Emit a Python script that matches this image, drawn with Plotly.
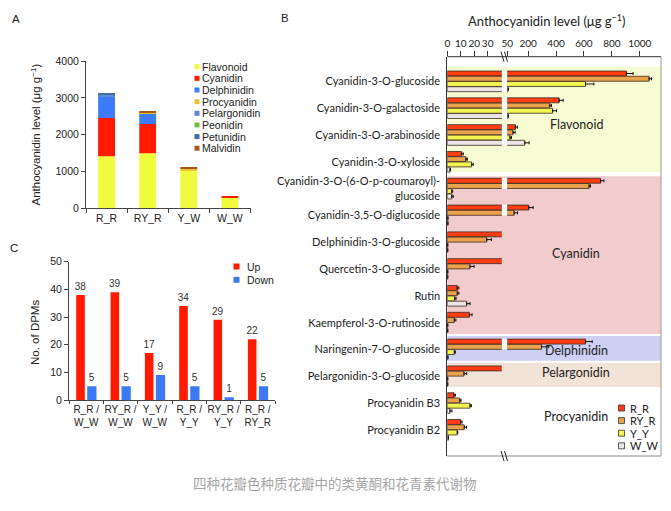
import plotly.graph_objects as go

W, H = 671, 511


def px(x):
    return x / W


def py(y):
    return 1 - y / H


# ---------------- Panel A data ----------------
a_groups = ["R_R", "RY_R", "Y_W", "W_W"]
a_classes = ["Flavonoid", "Cyanidin", "Delphinidin", "Procyanidin",
             "Pelargonidin", "Peonidin", "Petunidin", "Malvidin"]
a_flavonoid = [1415, 1495, 1036, 288]
a_cyanidin = [1035, 793, 0, 36]
a_delphinidin = [586, 280, 0, 0]
a_procyanidin = [0, 36, 45, 0]
a_pelargonidin = [45, 0, 0, 0]
a_peonidin = [0, 0, 0, 0]
a_petunidin = [27, 0, 0, 0]
a_malvidin = [0, 18, 18, 0]
a_values = [a_flavonoid, a_cyanidin, a_delphinidin, a_procyanidin,
            a_pelargonidin, a_peonidin, a_petunidin, a_malvidin]
a_colors = ["#effb3c", "#ff1a00", "#3c7cfa", "#ecc232",
            "#5d88d4", "#70bd44", "#3e6f9f", "#a8561e"]

# ---------------- Panel C data ----------------
c_comparisons = ["R_R /<br>W_W", "RY_R /<br>W_W", "Y_Y /<br>W_W",
                 "R_R /<br>Y_Y", "RY_R /<br>Y_Y", "R_R /<br>RY_R"]
c_up = [38, 39, 17, 34, 29, 22]
c_down = [5, 5, 9, 5, 1, 5]
c_series = ["Up", "Down"]
c_colors = ["#ff1a00", "#3d78f5"]

# ---------------- Panel B data ----------------
b_metabolites = [
    "Cyanidin-3-O-glucoside",
    "Cyanidin-3-O-galactoside",
    "Cyanidin-3-O-arabinoside",
    "Cyanidin-3-O-xyloside",
    "Cyanidin-3-O-(6-O-p-coumaroyl)-<br>glucoside",
    "Cyanidin-3,5-O-diglucoside",
    "Delphinidin-3-O-glucoside",
    "Quercetin-3-O-glucoside",
    "Rutin",
    "Kaempferol-3-O-rutinoside",
    "Naringenin-7-O-glucoside",
    "Pelargonidin-3-O-glucoside",
    "Procyanidin B3",
    "Procyanidin B2",
]
b_series = ["R_R", "RY_R", "Y_Y", "W_W"]
b_rr = [905, 422, 109, 10.7, 719, 205, 45, 45, 7.4, 16.4, 611, 45, 5.0, 10.0]
b_rr_err = [47, 29, 14, 1.2, 24, 31, 0, 0, 1.2, 2.0, 48, 0, 1.0, 1.0]
b_ryr = [1067, 355, 92, 13.9, 637, 100, 29.3, 16.9, 7.4, 5.2, 296, 12.4, 9.4, 12.6]
b_ryr_err = [17, 12, 15, 1.0, 10, 24, 3.5, 3.0, 1.2, 1.2, 52, 2.0, 0.8, 1.6]
b_yy = [611, 375, 70, 18.1, 3.3, 0.4, 0.3, 0.3, 5.5, 0.3, 5.2, 0.3, 16.9, 7.4]
b_yy_err = [60, 28, 11, 1.2, 0.7, 0, 0, 0, 1.0, 0, 0.8, 0, 1.0, 0.4]
b_ww = [55, 55, 176, 2.0, 3.3, 0.4, 0.3, 0.3, 14.4, 0.3, 0.4, 0.3, 2.0, 0.8]
b_ww_err = [4, 4, 31, 0.3, 1.1, 0, 0, 0, 2.5, 0, 0, 0, 1.5, 0]
b_values = [b_rr, b_ryr, b_yy, b_ww]
b_errors = [b_rr_err, b_ryr_err, b_yy_err, b_ww_err]
b_colors = ["#ff3c12", "#eba24c", "#f2f450", "#ece6e6"]
b_classes = ["Flavonoid", "Cyanidin", "Delphinidin", "Pelargonidin", "Procyanidin"]
b_class_spans = [(-0.55, 3.38), (3.53, 9.42), (9.49, 10.42), (10.49, 11.40), None]
b_class_colors = ["#f6fbd3", "#f2cbcd", "#cdd0f2", "#f1e3d8", None]
b_class_label_rows = [1.6, 6.4, 10.05, 10.87, 12.5]
b_left_ticks = [0, 10, 20, 30]
b_right_ticks = [50, 200, 400, 600, 800, 1000]
b_left_max = 40.5
b_right_min = 50

ARIAL = "Liberation Sans, Arial, sans-serif"
NARROW = "Lato, sans-serif"

fig = go.Figure()

# Panel A: stacked bars (explicit bases)
base = [0] * len(a_groups)
for name, vals, col in zip(a_classes, a_values, a_colors):
    fig.add_trace(go.Bar(
        x=a_groups, y=vals, base=base, name=name,
        marker=dict(color=col, line=dict(width=0)),
        width=0.41, offset=-0.205, xaxis="x", yaxis="y", showlegend=False))
    base = [b + v for b, v in zip(base, vals)]

# Panel C: grouped bars
for name, vals, col, off, wd in zip(c_series, [c_up, c_down], c_colors,
                                    [-0.29, 0.03], [0.25, 0.27]):
    fig.add_trace(go.Bar(
        x=c_comparisons, y=vals, name=name,
        marker=dict(color=col, line=dict(width=0)),
        width=wd, offset=off, text=vals, textposition="outside",
        constraintext="none",
        textfont=dict(family=ARIAL, size=10, color="#333"),
        cliponaxis=False, xaxis="x2", yaxis="y2", showlegend=False))

# Panel B: horizontal grouped bars on a broken axis (two x axes)
b_offsets = [-0.39, -0.195, 0.0, 0.195]
b_width = 0.185
for name, vals, errs, col, off in zip(b_series, b_values, b_errors, b_colors, b_offsets):
    for xa in ("x3", "x4"):
        fig.add_trace(go.Bar(
            y=b_metabolites, x=vals, orientation="h", name=name,
            width=b_width, offset=off,
            marker=dict(color=col, line=dict(color="#3a2a20", width=0.8)),
            error_x=dict(type="data", array=errs, arrayminus=[0] * len(errs),
                         symmetric=False, color="#111", thickness=1, width=1.5),
            xaxis=xa, yaxis="y3", showlegend=False))

shapes = []
annotations = []


def note(x, y, text, font, xanchor="center", angle=0):
    annotations.append(dict(xref="paper", yref="paper", x=px(x), y=py(y),
                            text=text, showarrow=False, xanchor=xanchor,
                            yanchor="middle", textangle=angle, font=font))


# Background bands for panel B
for span, col in zip(b_class_spans, b_class_colors):
    if span is None:
        continue
    shapes.append(dict(type="rect", xref="paper", yref="y3",
                       x0=px(447.3), x1=px(661), y0=span[0], y1=span[1],
                       fillcolor=col, line=dict(width=0), layer="below"))

# White gap where bars continue across the axis break
for vals, off in zip(b_values, b_offsets):
    for i, v in enumerate(vals):
        if v > b_right_min:
            shapes.append(dict(type="rect", xref="paper", yref="y3",
                               x0=px(501.8), x1=px(507.2),
                               y0=i + off - 0.01, y1=i + off + b_width + 0.01,
                               fillcolor="white", line=dict(width=0), layer="below"))

for name, row in zip(b_classes, b_class_label_rows):
    annotations.append(dict(xref="paper", yref="y3", x=px(576), y=row, text=name,
                            showarrow=False, xanchor="center", yanchor="middle",
                            font=dict(family=NARROW, size=12.5, color="#222")))

# Panel B frame
shapes += [
    dict(type="line", xref="paper", yref="paper", x0=px(447.3), x1=px(661),
         y0=py(56.7), y1=py(56.7), line=dict(color="#333", width=1)),
    dict(type="line", xref="paper", yref="paper", x0=px(661), x1=px(661),
         y0=py(56.7), y1=py(456), line=dict(color="#9a9a9a", width=1)),
    dict(type="line", xref="paper", yref="paper", x0=px(447.3), x1=px(661),
         y0=py(456), y1=py(456), line=dict(color="#8a8a8a", width=1)),
]
for yc in (56.7, 456):
    for dx in (0, 3.5):
        shapes.append(dict(type="line", xref="paper", yref="paper",
                           x0=px(501 + dx), x1=px(504 + dx), y0=py(yc - 5), y1=py(yc + 5),
                           line=dict(color="#222", width=1)))


# Manual legends
def legend_item(xs, yc, size, color, text, xt, font, outline=None):
    shapes.append(dict(type="rect", xref="paper", yref="paper",
                       x0=px(xs), x1=px(xs + size), y0=py(yc + size / 2), y1=py(yc - size / 2),
                       fillcolor=color,
                       line=dict(width=0.8 if outline else 0, color=outline or color)))
    note(xt, yc, text, font, xanchor="left")


for i, (name, col) in enumerate(zip(a_classes, a_colors)):
    legend_item(194.5, 66.7 + i * 11.65, 5, col, name, 200.5,
                dict(family=ARIAL, size=10.5, color="#222"))

for i, (name, col) in enumerate(zip(c_series, c_colors)):
    legend_item(233.5, 266.5 + i * 13.3, 6, col, name, 244.5,
                dict(family=ARIAL, size=10.5, color="#222"))

for i, (name, col) in enumerate(zip(b_series, b_colors)):
    legend_item(618.5, 408 + i * 12.6, 6, col, name, 628,
                dict(family=NARROW, size=11, color="#222"), outline="#333")

# Panel labels, titles, caption
for lab, x, y in (("A", 15.5, 19), ("B", 285, 18), ("C", 13.5, 248.5)):
    note(x, y, lab, dict(family=ARIAL, size=11.5, color="#222"))

note(35.5, 135, "Anthocyanidin level (μg g<sup>−1</sup>)",
     dict(family=ARIAL, size=11.5, color="#222"), angle=-90)
note(35, 333, "No. of DPMs", dict(family=ARIAL, size=11.5, color="#222"), angle=-90)
note(547, 20.5, "Anthocyanidin level (μg g<sup>−1</sup>)",
     dict(family=NARROW, size=13, color="#222"))
note(335, 483, "四种花瓣色种质花瓣中的类黄酮和花青素代谢物",
     dict(family="Noto Sans CJK SC", size=13.5, color="#a6a6a6"))

axis_font = dict(family=ARIAL, size=10.5, color="#222")
c_tick_font = dict(family=ARIAL, size=10, color="#222")
narrow_font = dict(family=NARROW, size=11, color="#222")
b_tick_font = dict(family=NARROW, size=10, color="#222")

fig.update_layout(
    width=W, height=H,
    margin=dict(l=0, r=0, t=0, b=0),
    paper_bgcolor="white", plot_bgcolor="rgba(0,0,0,0)",
    barmode="overlay", showlegend=False,
    shapes=shapes, annotations=annotations,
    xaxis=dict(domain=[px(86), px(250.5)], anchor="y", range=[-0.5, 3.5],
               showline=True, linecolor="#444", ticks="outside", tickson="boundaries",
               ticklen=4, tickcolor="#444", tickfont=axis_font, automargin=False,
               tickangle=0),
    yaxis=dict(domain=[py(208.3), py(61)], anchor="x", range=[0, 4000], dtick=1000,
               showline=True, linecolor="#444", ticks="outside", ticklen=4, tickcolor="#444",
               showgrid=False, zeroline=False, tickfont=axis_font, automargin=False),
    xaxis2=dict(domain=[px(69), px(275)], anchor="y2", range=[-0.5, 5.5],
                showline=True, linecolor="#444", ticks="outside", tickson="boundaries",
                ticklen=3, tickcolor="#444", tickfont=c_tick_font, automargin=False,
                tickangle=0),
    yaxis2=dict(domain=[py(400), py(261.7)], anchor="x2", range=[0, 50], dtick=10,
                showline=True, linecolor="#444", ticks="outside", ticklen=4, tickcolor="#444",
                showgrid=False, zeroline=False, tickfont=axis_font, automargin=False),
    xaxis3=dict(domain=[px(447.3), px(501.8)], anchor="y3", side="top",
                range=[0, b_left_max],
                tickvals=b_left_ticks, ticks="outside", ticklen=5, tickcolor="#333",
                showline=False, showgrid=False, zeroline=False, tickfont=b_tick_font,
                automargin=False, tickangle=0),
    xaxis4=dict(domain=[px(507.2), px(661)], anchor="y3", side="top",
                range=[b_right_min, 1152],
                tickvals=b_right_ticks, ticks="outside", ticklen=5,
                tickcolor="#333", showline=False, showgrid=False, zeroline=False,
                tickfont=b_tick_font, automargin=False, tickangle=0),
    yaxis3=dict(domain=[py(456), py(56.7)], anchor="x3", range=[13.97, -0.925],
                showline=True, linecolor="#333", ticks="", showgrid=False,
                tickfont=narrow_font, automargin=False, ticklabelstandoff=4),
)

fig.write_html("out.html", config={"displayModeBar": False},
               post_script="document.body.style.margin='0';")
